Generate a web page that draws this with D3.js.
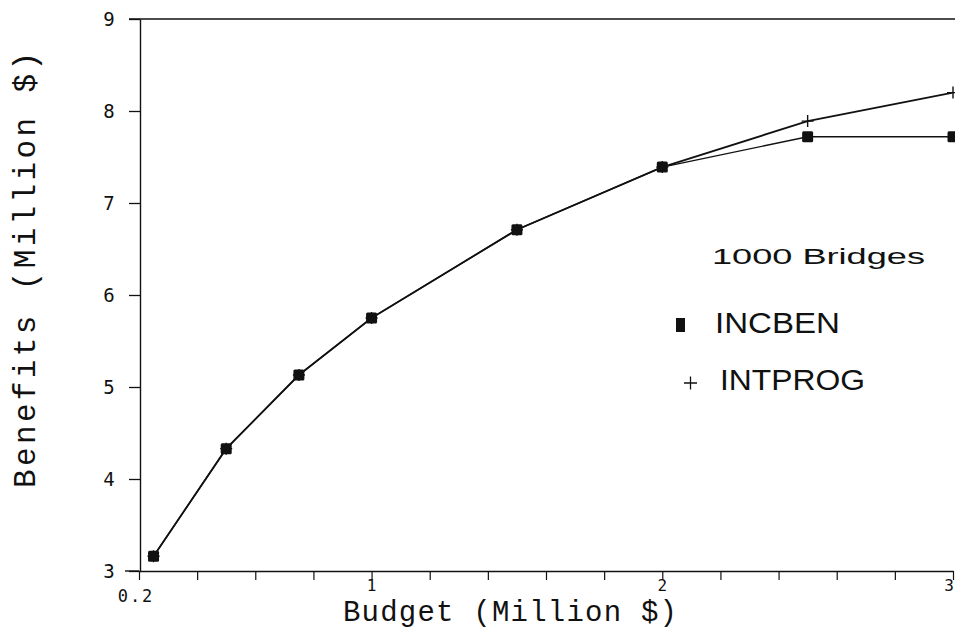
<!DOCTYPE html>
<html><head><meta charset="utf-8">
<script src="https://cdn.jsdelivr.net/npm/d3@7"></script>
<style>html,body{margin:0;padding:0;background:#fff;overflow:hidden}</style>
</head><body>
<svg id="chart" width="955" height="629"></svg>
<script>
const budgets = [0.25, 0.5, 0.75, 1.0, 1.5, 2.0, 2.5, 3.0];
const incben  = [3.16, 4.33, 5.13, 5.75, 6.71, 7.39, 7.72, 7.72];
const intprog = [3.16, 4.33, 5.13, 5.75, 6.71, 7.39, 7.89, 8.20];
const xTicks = [0.2,0.4,0.6,0.8,1.0,1.2,1.4,1.6,1.8,2.0,2.2,2.4,2.6,2.8,3.0];
const xTickLabels = [[0.2,"0.2"],[1,"1"],[2,"2"],[3,"3"]];
const yTicks = [3,4,5,6,7,8,9];
const seriesNames = ["INCBEN","INTPROG"];
const legendTitle = "1000 Bridges";
const xTitle = "Budget (Million $)";
const yTitle = "Benefits (Million $)";

const svg = d3.select("#chart");
const x = d3.scaleLinear().domain([0.2, 3]).range([139, 953]);
const y = d3.scaleLinear().domain([3, 9]).range([571, 19]);
const ink = "#111";

// frame: top line
svg.append("line").attr("x1", 129).attr("x2", 955).attr("y1", y(9)).attr("y2", y(9))
  .attr("stroke", ink).attr("stroke-width", 1.6);

// y axis
const yAxis = d3.axisLeft(y).tickValues(yTicks).tickSize(11).tickFormat("").tickSizeOuter(0);
const gy = svg.append("g").attr("transform", `translate(${x(0.2)+1},0)`).call(yAxis);
gy.select(".domain").attr("stroke", ink).attr("stroke-width", 1.4);
gy.selectAll(".tick line").attr("stroke", ink).attr("stroke-width", 1.3);
svg.selectAll(".ylab").data(yTicks).enter().append("text")
  .attr("x", 109).attr("y", d => y(d) + 7)
  .attr("text-anchor", "middle")
  .attr("font-family", "DejaVu Sans Mono, monospace").attr("font-size", 19)
  .attr("fill", ink).text(d => d);

// x axis
const xAxis = d3.axisBottom(x).tickValues(xTicks).tickSize(9).tickFormat("").tickSizeOuter(0);
const gx = svg.append("g").attr("transform", `translate(0,${y(3)})`).call(xAxis);
gx.select(".domain").attr("stroke", ink).attr("stroke-width", 1.6);
gx.selectAll(".tick line").attr("stroke", ink).attr("stroke-width", 1.2);
svg.append("line").attr("x1", 125).attr("x2", x(0.2)).attr("y1", y(3)).attr("y2", y(3))
  .attr("stroke", ink).attr("stroke-width", 1.4);
svg.selectAll(".xlab").data(xTickLabels).enter().append("text")
  .attr("x", d => d[1] === "0.2" ? x(d[0]) - 3 : (d[1] === "3" ? x(d[0]) - 4 : x(d[0])))
  .attr("y", d => d[1] === "0.2" ? 602 : 591)
  .attr("text-anchor", "middle")
  .attr("font-family", "DejaVu Sans Mono, monospace").attr("font-size", d => d[1] === "0.2" ? 17 : 16)
  .attr("letter-spacing", d => d[1] === "0.2" ? 2 : 0)
  .attr("fill", ink).text(d => d[1]);

// axis titles
svg.append("text").attr("x", 343).attr("y", 621)
  .attr("font-family", "Liberation Mono, Courier New, monospace").attr("font-size", 29)
  .attr("textLength", 334).attr("lengthAdjust", "spacing")
  .attr("fill", ink).text(xTitle);
svg.append("text").attr("transform", "translate(35,488) rotate(-90)")
  .attr("font-family", "Liberation Mono, Courier New, monospace").attr("font-size", 31)
  .attr("textLength", 436).attr("lengthAdjust", "spacing")
  .attr("fill", ink).text(yTitle);

// lines
const line = d3.line().x(d => x(d[0])).y(d => y(d[1]));
const ptsA = budgets.map((b, i) => [b, incben[i]]);
const ptsB = budgets.map((b, i) => [b, intprog[i]]);
svg.append("path").datum(ptsB).attr("d", line).attr("fill", "none")
  .attr("stroke", ink).attr("stroke-width", 1.8);
svg.append("path").datum(ptsA).attr("d", line).attr("fill", "none")
  .attr("stroke", ink).attr("stroke-width", 1.4);

// plus markers (INTPROG)
svg.selectAll(".plus").data(ptsB).enter().append("path")
  .attr("d", d => { const cx = x(d[0]), cy = y(d[1]); return `M${cx-6},${cy}H${cx+6}M${cx},${cy-6}V${cy+6}`; })
  .attr("stroke", ink).attr("stroke-width", 1.4);
// square markers (INCBEN)
svg.selectAll(".sq").data(ptsA).enter().append("rect")
  .attr("x", d => x(d[0]) - 5.5).attr("y", d => y(d[1]) - 5.5)
  .attr("width", 11).attr("height", 11).attr("rx", 1.5)
  .attr("fill", ink);

// legend
svg.append("text").attr("x", 712).attr("y", 264)
  .attr("font-family", "Liberation Sans, Arial, sans-serif").attr("font-size", 22)
  .attr("textLength", 213).attr("lengthAdjust", "spacingAndGlyphs")
  .attr("fill", ink).text(legendTitle);
svg.append("rect").attr("x", 676).attr("y", 318).attr("width", 9).attr("height", 14).attr("fill", ink);
svg.append("text").attr("x", 715).attr("y", 333)
  .attr("font-family", "Liberation Sans, Arial, sans-serif").attr("font-size", 29)
  .attr("textLength", 125).attr("lengthAdjust", "spacingAndGlyphs")
  .attr("fill", ink).text(seriesNames[0]);
svg.append("path").attr("d", "M684,383H697M690.5,376.5V389.5").attr("stroke", ink).attr("stroke-width", 1.3);
svg.append("text").attr("x", 720).attr("y", 390)
  .attr("font-family", "Liberation Sans, Arial, sans-serif").attr("font-size", 29)
  .attr("textLength", 145).attr("lengthAdjust", "spacingAndGlyphs")
  .attr("fill", ink).text(seriesNames[1]);
</script>
</body></html>
